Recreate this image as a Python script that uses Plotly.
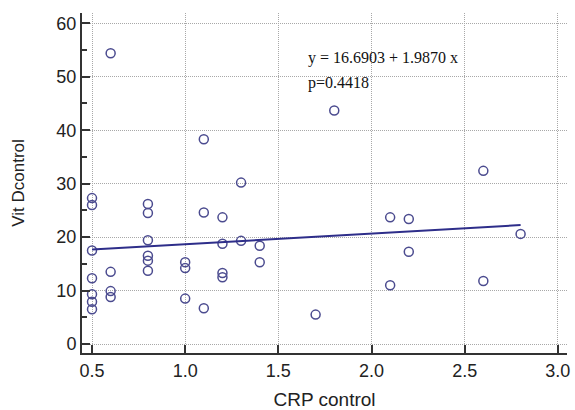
import plotly.graph_objects as go

crp = [0.5, 0.5, 0.5, 0.5, 0.5, 0.5, 0.5,
       0.6, 0.6, 0.6, 0.6,
       0.8, 0.8, 0.8, 0.8, 0.8, 0.8,
       1.0, 1.0, 1.0,
       1.1, 1.1, 1.1,
       1.2, 1.2, 1.2, 1.2,
       1.3, 1.3,
       1.4, 1.4,
       1.7, 1.8,
       2.1, 2.1,
       2.2, 2.2,
       2.6, 2.6,
       2.8]
vitd = [27.3, 26.0, 17.5, 12.3, 9.3, 7.9, 6.5,
        54.4, 13.5, 9.9, 8.8,
        26.2, 24.5, 19.4, 16.5, 15.6, 13.7,
        15.3, 14.2, 8.5,
        38.3, 24.6, 6.7,
        23.7, 18.75, 13.3, 12.5,
        30.2, 19.3,
        18.4, 15.3,
        5.5, 43.7,
        23.7, 11.0,
        23.4, 17.25,
        32.4, 11.8,
        20.6]

intercept = 16.6903
slope = 1.9870
p_value = 0.4418
fit_x = [min(crp), max(crp)]
fit_y = [intercept + slope * v for v in fit_x]

x_ticks = [0.5, 1.0, 1.5, 2.0, 2.5, 3.0]
y_ticks = [0, 10, 20, 30, 40, 50, 60]

fig = go.Figure()
fig.add_trace(go.Scatter(x=crp, y=vitd, mode="markers",
                         marker=dict(symbol="circle-open", size=9, color="#4b4b8f",
                                     line=dict(width=1.5, color="#4b4b8f")),
                         showlegend=False, hoverinfo="skip"))
fig.add_trace(go.Scatter(x=fit_x, y=fit_y, mode="lines",
                         line=dict(color="#2e2e8a", width=2),
                         showlegend=False, hoverinfo="skip"))

fig.add_annotation(x=1.649, y=53.5, xref="x", yref="y", xanchor="left", yanchor="middle",
                   text=f"y = {intercept:.4f} + {slope:.4f} x", showarrow=False,
                   font=dict(family="Liberation Serif", size=16, color="#111"))
fig.add_annotation(x=1.649, y=48.8, xref="x", yref="y", xanchor="left", yanchor="middle",
                   text=f"p={p_value:.4f}", showarrow=False,
                   font=dict(family="Liberation Serif", size=16, color="#111"))

axis_common = dict(showline=True, linecolor="#333", linewidth=2, mirror=False,
                   ticks="inside", ticklen=8, tickwidth=2, tickcolor="#333",
                   showgrid=True, gridcolor="#a8a8a8", griddash="1px,1px", gridwidth=1,
                   zeroline=False, automargin=False,
                   tickfont=dict(family="Liberation Sans, Arial", size=18, color="#222"))

fig.update_layout(
    width=575, height=410,
    margin=dict(l=82, r=8, t=13, b=57),
    plot_bgcolor="white", paper_bgcolor="white",
    xaxis=dict(range=[0.4463, 3.049], tickvals=x_ticks, ticktext=[f"{v:.1f}" for v in x_ticks],
               title=dict(text="CRP control", standoff=14,
                          font=dict(family="Liberation Sans, Arial", size=19, color="#222")),
               **axis_common),
    yaxis=dict(range=[-1.68, 61.93], tickvals=y_ticks,
               minor=dict(ticks="inside", ticklen=5, tickwidth=2, tickcolor="#333",
                          dtick=5, tick0=0, showgrid=False),
               title=dict(text="Vit Dcontrol", standoff=27,
                          font=dict(family="Liberation Sans, Arial", size=17, color="#222")),
               **axis_common),
)

fig.write_html(
    "out.html",
    config={"displayModeBar": False},
    post_script="document.body.style.margin='0';document.body.style.overflow='hidden';",
)
